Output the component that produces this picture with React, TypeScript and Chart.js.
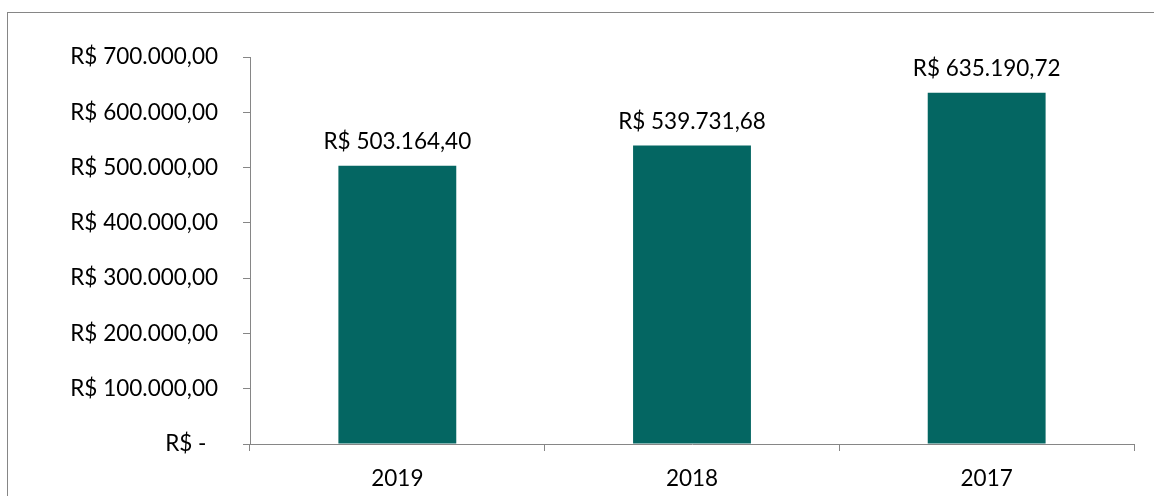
import React, { useEffect, useRef } from "react";
import { Chart, registerables } from "chart.js";

Chart.register(...registerables);

const categories = ["2019", "2018", "2017"];
const values = [503164.4, 539731.68, 635190.72];
const yTickValues = [0, 100000, 200000, 300000, 400000, 500000, 600000, 700000];
const yTickLabels = [
  "R$ -  ",
  "R$ 100.000,00",
  "R$ 200.000,00",
  "R$ 300.000,00",
  "R$ 400.000,00",
  "R$ 500.000,00",
  "R$ 600.000,00",
  "R$ 700.000,00",
];
const valueLabels = ["R$ 503.164,40", "R$ 539.731,68", "R$ 635.190,72"];

const FONT = "Lato, 'Open Sans', sans-serif";
const FSIZE = 22.5;
const AXIS = "#868686";
const BAR = "#046662";

const valueLabelPlugin = {
  id: "valueLabels",
  afterDatasetsDraw(chart: any) {
    const ctx = chart.ctx;
    const meta = chart.getDatasetMeta(0);
    ctx.save();
    ctx.font = `${FSIZE}px ${FONT}`;
    ctx.fillStyle = "#000";
    ctx.textAlign = "center";
    ctx.textBaseline = "alphabetic";
    meta.data.forEach((el: any, i: number) => {
      ctx.fillText(valueLabels[i], el.x, el.y - 17);
    });
    ctx.restore();
  },
};

export default function App() {
  const ref = useRef<HTMLCanvasElement | null>(null);
  useEffect(() => {
    if (!ref.current) return;
    const chart = new Chart(ref.current, {
      type: "bar",
      data: {
        labels: categories,
        datasets: [
          {
            data: values,
            backgroundColor: BAR,
            borderWidth: 0,
            barPercentage: 0.4,
            categoryPercentage: 1,
          },
        ],
      },
      options: {
        animation: false,
        responsive: false,
        devicePixelRatio: 1,
        layout: { padding: { top: 57, right: 20, bottom: 0, left: 0 } },
        plugins: { legend: { display: false }, tooltip: { enabled: false } },
        scales: {
          x: {
            afterFit: (s: any) => {
              s.height = 52;
            },
            grid: {
              display: true,
              drawOnChartArea: false,
              drawTicks: true,
              tickLength: 7,
              color: AXIS,
              offset: true,
            },
            border: { display: true, color: AXIS, width: 1 },
            ticks: {
              color: "#000",
              font: { family: FONT, size: FSIZE },
              padding: 14,
            },
          },
          y: {
            min: 0,
            max: 700000,
            afterFit: (s: any) => {
              s.width = 250;
            },
            afterBuildTicks: (s: any) => {
              s.ticks = yTickValues.map((v) => ({ value: v }));
            },
            grid: {
              display: true,
              drawOnChartArea: false,
              drawTicks: true,
              tickLength: 7,
              color: AXIS,
            },
            border: { display: true, color: AXIS, width: 1 },
            ticks: {
              color: "#000",
              font: { family: FONT, size: FSIZE },
              padding: 25,
              callback: (v: any) => {
                const i = yTickValues.indexOf(Number(v));
                return i >= 0 ? yTickLabels[i] : "";
              },
            },
          },
        },
      },
      plugins: [valueLabelPlugin],
    });
    return () => chart.destroy();
  }, []);

  return (
    <div
      style={{
        position: "fixed",
        left: 0,
        top: 0,
        width: 1154,
        height: 496,
        overflow: "hidden",
        background: "#fff",
      }}
    >
      <div
        style={{
          position: "absolute",
          left: 7,
          top: 12,
          width: 1200,
          height: 600,
          border: `1.5px solid ${AXIS}`,
        }}
      />
      <canvas
        ref={ref}
        width={1154}
        height={496}
        style={{ position: "absolute", left: 0, top: 0 }}
      />
    </div>
  );
}
